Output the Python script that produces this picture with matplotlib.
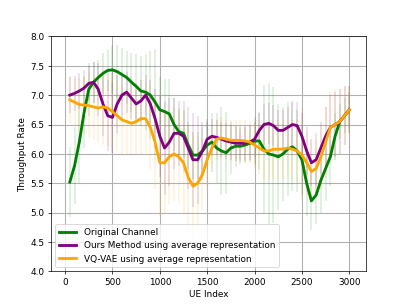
import numpy as np
import matplotlib
matplotlib.use("Agg")
import matplotlib.pyplot as plt

ue_index = list(range(50, 3001, 50))

orig_mean = [5.52, 5.80, 6.20, 6.70, 7.10, 7.22, 7.30, 7.37, 7.42, 7.43,
             7.40, 7.35, 7.30, 7.22, 7.15, 7.07, 7.05, 7.00, 6.88, 6.75,
             6.72, 6.68, 6.50, 6.38, 6.35, 6.15, 5.98, 5.98, 6.05, 6.15,
             6.20, 6.10, 6.05, 6.02, 6.10, 6.13, 6.13, 6.15, 6.18, 6.22,
             6.22, 6.08, 6.00, 5.98, 5.95, 6.00, 6.08, 6.12, 6.05, 5.90,
             5.50, 5.20, 5.30, 5.55, 5.75, 5.95, 6.30, 6.55, 6.65, 6.75]
orig_err = [0.60, 0.65, 0.70, 0.60, 0.45, 0.35, 0.30, 0.35, 0.35, 0.40,
            0.45, 0.45, 0.45, 0.50, 0.55, 0.60, 0.65, 0.75, 0.90, 0.55,
            0.55, 0.60, 0.45, 0.40, 0.40, 0.40, 0.40, 0.40, 0.40, 0.40,
            0.50, 0.60, 0.75, 0.70, 0.45, 0.35, 0.30, 0.30, 0.30, 0.40,
            0.50, 1.10, 1.20, 1.15, 0.90, 0.80, 0.80, 0.75, 0.70, 0.60,
            0.55, 0.50, 0.50, 0.55, 0.55, 0.50, 0.40, 0.30, 0.30, 0.30]

ours_mean = [7.00, 7.03, 7.07, 7.12, 7.20, 7.22, 7.10, 6.85, 6.65, 6.62,
             6.85, 7.00, 7.05, 6.95, 6.85, 6.90, 7.00, 6.85, 6.60, 6.30,
             6.10, 6.20, 6.35, 6.35, 6.30, 6.10, 5.90, 5.90, 6.05, 6.25,
             6.30, 6.28, 6.25, 6.22, 6.20, 6.18, 6.18, 6.18, 6.20, 6.25,
             6.40, 6.50, 6.52, 6.48, 6.40, 6.40, 6.45, 6.50, 6.48, 6.30,
             6.05, 5.85, 5.90, 6.10, 6.30, 6.45, 6.50, 6.55, 6.65, 6.75]
ours_err = [0.30, 0.30, 0.30, 0.30, 0.30, 0.35, 0.45, 0.55, 0.60, 0.60,
            0.50, 0.40, 0.35, 0.35, 0.35, 0.35, 0.35, 0.40, 0.50, 0.70,
            0.80, 0.75, 0.60, 0.55, 0.60, 0.70, 0.80, 0.75, 0.50, 0.35,
            0.30, 0.30, 0.30, 0.30, 0.30, 0.30, 0.30, 0.30, 0.30, 0.30,
            0.30, 0.35, 0.35, 0.35, 0.35, 0.35, 0.35, 0.40, 0.40, 0.40,
            0.40, 0.40, 0.45, 0.45, 0.50, 0.55, 0.55, 0.55, 0.50, 0.40]

vq_mean = [6.92, 6.88, 6.84, 6.83, 6.82, 6.80, 6.78, 6.80, 6.78, 6.72,
           6.65, 6.58, 6.55, 6.52, 6.55, 6.60, 6.60, 6.45, 6.20, 5.85,
           5.85, 5.95, 6.00, 5.95, 5.85, 5.60, 5.45, 5.50, 5.65, 5.90,
           6.10, 6.25, 6.27, 6.25, 6.23, 6.23, 6.23, 6.22, 6.20, 6.15,
           6.10, 6.05, 6.05, 6.08, 6.08, 6.08, 6.10, 6.08, 6.05, 5.98,
           5.85, 5.70, 5.75, 5.95, 6.20, 6.45, 6.50, 6.55, 6.65, 6.75]
vq_err = [0.40, 0.40, 0.45, 0.50, 0.55, 0.55, 0.60, 0.65, 0.65, 0.65,
          0.60, 0.60, 0.55, 0.55, 0.55, 0.60, 0.60, 0.70, 0.80, 0.90,
          0.85, 0.80, 0.80, 0.80, 0.85, 0.90, 0.90, 0.80, 0.60, 0.45,
          0.35, 0.35, 0.35, 0.35, 0.35, 0.35, 0.35, 0.35, 0.35, 0.40,
          0.45, 0.50, 0.50, 0.50, 0.50, 0.50, 0.50, 0.50, 0.55, 0.80,
          0.55, 0.50, 0.50, 0.55, 0.60, 0.60, 0.60, 0.55, 0.50, 0.40]

series = [
    ("Original Channel", orig_mean, orig_err, "green"),
    ("Ours Method using average representation", ours_mean, ours_err, "purple"),
    ("VQ-VAE using average representation", vq_mean, vq_err, "orange"),
]

fig, ax = plt.subplots(figsize=(6.4, 4.8), dpi=63.6)
x = np.array(ue_index)
for i, (label, m, e, c) in enumerate(series):
    ax.errorbar(x, m, yerr=e, fmt='none', ecolor=c, alpha=0.15, elinewidth=1.8, zorder=1)
for i, (label, m, e, c) in enumerate(series):
    ax.plot(x, m, color=c, lw=3.2, label=label, zorder=3 + i)

ax.set_ylim(4.0, 8.0)
ax.set_xlim(-150, 3180)
ax.set_xticks([0, 500, 1000, 1500, 2000, 2500, 3000])
ax.set_xlabel("UE Index")
ax.set_ylabel("Throughput Rate")
ax.grid(True, color="#b0b0b0", lw=1.2)
ax.set_axisbelow(True)
ax.legend(loc="lower left")
fig.savefig("out.png", dpi=63.6)
